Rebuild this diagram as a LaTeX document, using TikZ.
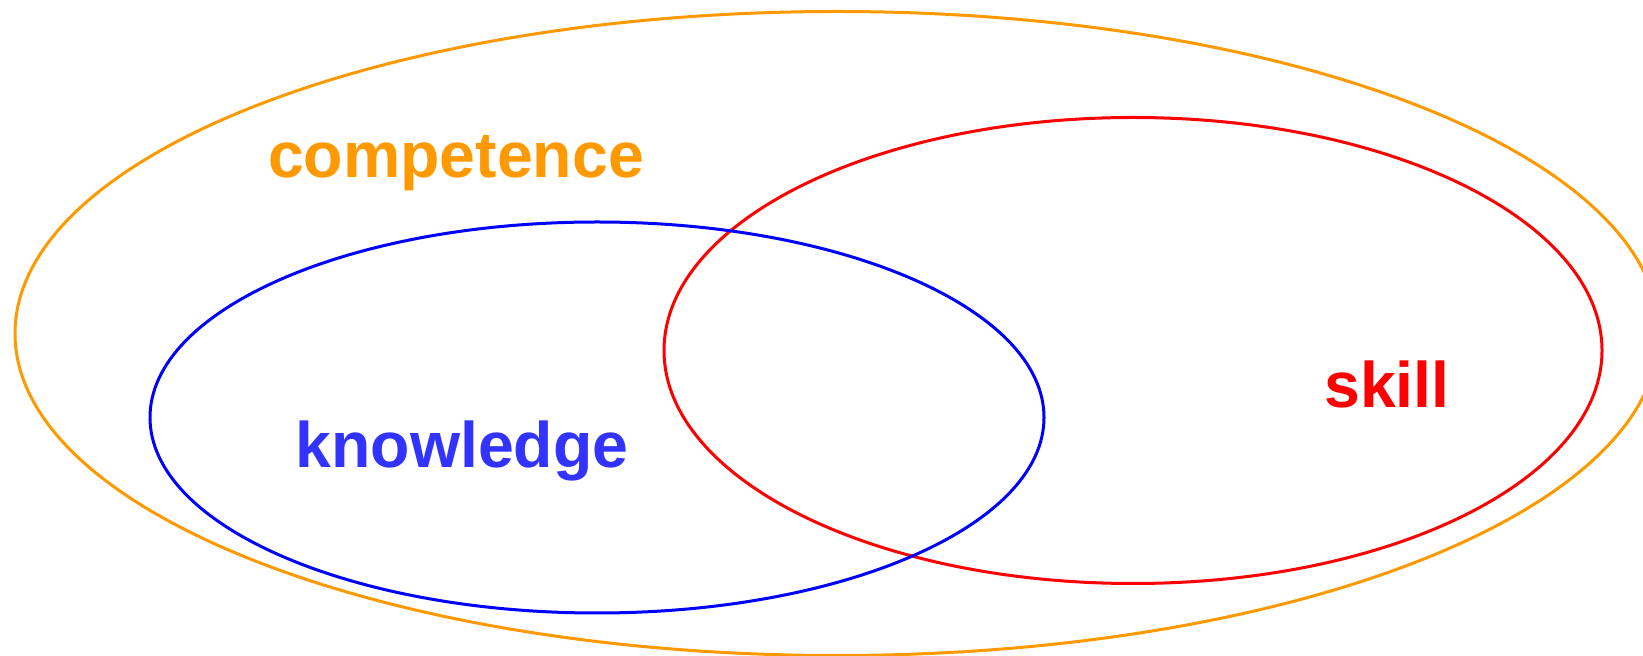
\documentclass[tikz,border=0pt]{standalone}
\usepackage{fontspec}
\setmainfont{Liberation Sans}
\usepackage{xcolor}
\definecolor{Orange}{HTML}{FF9900}
\definecolor{Red}{HTML}{FF0000}
\definecolor{Blue}{HTML}{0000FF}
\definecolor{BlueText}{HTML}{3333FF}
\tikzset{
  set/.style={line width=1.5pt},
  setlabel/.style={anchor=base,inner sep=0pt,font=\fontsize{32.2}{37}\selectfont\bfseries}
}
\begin{document}
\begin{tikzpicture}[x=0.5pt,y=-0.5pt]
  \useasboundingbox (0,0) rectangle (1643,656);
  \clip (0,0) rectangle (1643,656);
  % the three sets
  \draw[set,Orange] (837,333.5) ellipse [x radius=822,y radius=322];
  \draw[set,Red] (1133,350.5) ellipse [x radius=469,y radius=233];
  \draw[set,Blue] (597,417.5) ellipse [x radius=447,y radius=195.5];
  % labels
  \node[setlabel,text=Orange] (competence) at (456,178) {competence};
  \node[setlabel,text=BlueText] (knowledge) at (462,468) {knowledge};
  \node[setlabel,text=Red] (skill) at (1387,408) {skill};
\end{tikzpicture}
\end{document}
